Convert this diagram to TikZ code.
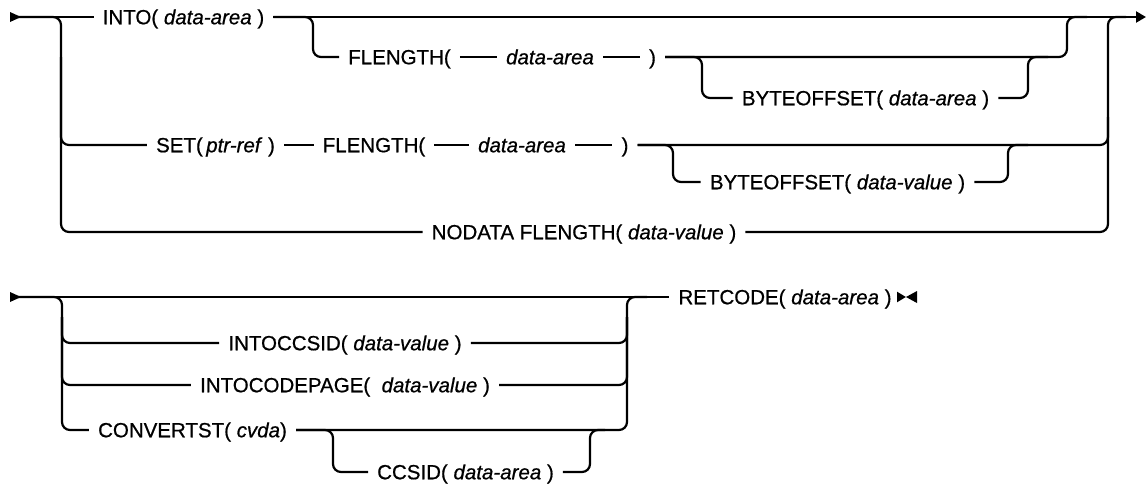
\documentclass[tikz,border=0pt]{standalone}
\usepackage{fontspec}
\setmainfont{Liberation Sans}
\newfontfamily\railfont{Liberation Sans}[FakeBold=0.7]
\usetikzlibrary{arrows.meta}

\tikzset{
    kw/.style={inner xsep=9pt, inner ysep=0pt, text height=14.5pt, text depth=0pt,
        font=\railfont\fontsize{20.5}{24}\selectfont},
    rail/.style={line width=2.2pt, rounded corners=8pt},
}

\begin{document}
\begin{tikzpicture}[x=1pt, y=-1pt]
    \useasboundingbox (0, 0) rectangle (1146, 483);

    % first diagram
    \coordinate (s1) at (10, 17);
    \coordinate (e1) at (1146, 17);
    \coordinate (b1) at (61, 17);
    \coordinate (b2) at (313, 17);
    \coordinate (b3) at (702, 57);
    \coordinate (b4) at (673, 145);
    \coordinate (m1) at (1028, 57);
    \coordinate (m2) at (1067, 17);
    \coordinate (m3) at (1008, 145);
    \coordinate (m4) at (1108, 17);

    \node[kw] (into) at (183.5, 17) {INTO( \textit{data-area} )};
    \node[kw] (flen1) at (399.5, 57) {FLENGTH(};
    \node[kw] (area1) at (550, 57) {\textit{data-area}};
    \node[kw] (rp1) at (652.5, 57) {)};
    \node[kw] (byte1) at (865.5, 98) {BYTEOFFSET( \textit{data-area} )};
    \node[kw] (set) at (215.5, 145) {SET(\,\textit{ptr-ref} )};
    \node[kw] (flen2) at (374, 145) {FLENGTH(};
    \node[kw] (area2) at (522, 145) {\textit{data-area}};
    \node[kw] (rp2) at (625, 145) {)};
    \node[kw] (byte2) at (837.5, 182) {BYTEOFFSET( \textit{data-value} )};
    \node[kw] (nodata) at (584, 232) {NODATA FLENGTH( \textit{data-value} )};

    \fill (s1) ++(0, -5) -- ++(11, 5) -- ++(-11, 5) -- cycle;
    \draw[rail] (s1) -- (into);
    \draw[rail, -{Triangle[length=10pt, width=11pt]}] (into) -- (e1);
    \draw[rail] (s1) -| (b1 |- nodata) -- (nodata);
    \draw[rail] ([yshift=-40pt]b1) |- (set);

    \draw[rail] (into) -| (b2 |- flen1) -- (flen1);
    \draw[rail] (flen1) -- (area1);
    \draw[rail] (area1) -- (rp1);
    \draw[rail] (rp1) -| (m2) -- ++(20, 0);
    \draw[rail] (rp1) -| (b3 |- byte1) -- (byte1);
    \draw[rail] (byte1) -| (m1) -- ++(20, 0);

    \draw[rail] (set) -- (flen2);
    \draw[rail] (flen2) -- (area2);
    \draw[rail] (area2) -- (rp2);
    \draw[rail] (rp2) -| ([yshift=-100pt]m4);
    \draw[rail] (rp2) -| (b4 |- byte2) -- (byte2);
    \draw[rail] (byte2) -| (m3) -- ++(20, 0);
    \draw[rail] (nodata) -| (m4) -- ++(18, 0);

    % second diagram
    \coordinate (s2) at (10, 297);
    \coordinate (e2) at (906, 297);
    \coordinate (c1) at (62, 297);
    \coordinate (c2) at (627, 297);
    \coordinate (c3) at (333, 430);
    \coordinate (c4) at (590, 430);

    \node[kw] (intoccsid) at (345, 343) {INTOCCSID( \textit{data-value} )};
    \node[kw] (intocp) at (345, 385) {INTOCODEPAGE(\ \ \textit{data-value} )};
    \node[kw] (convst) at (192.5, 430) {CONVERTST( \textit{cvda})};
    \node[kw] (ccsid) at (465.5, 472) {CCSID( \textit{data-area} )};
    \node[kw] (retcode) at (785, 297) {RETCODE( \textit{data-area} )};

    \fill (s2) ++(0, -5) -- ++(11, 5) -- ++(-11, 5) -- cycle;
    \draw[rail] (s2) -- (retcode);
    \draw[rail] (s2) -| (c1 |- convst) -- (convst);
    \draw[rail] ([yshift=-20pt]c1) |- (intoccsid);
    \draw[rail] ([yshift=-20pt]c1) |- (intocp);
    \draw[rail] (intoccsid) -| ([yshift=-20pt]c2);
    \draw[rail] (intocp) -| ([yshift=-20pt]c2);
    \draw[rail] (convst) -| (c2) -- ++(20, 0);
    \draw[rail] (convst) -| (c3 |- ccsid) -- (ccsid);
    \draw[rail] (ccsid) -| (c4) -- ++(15, 0);

    \draw[rail, -{Triangle[length=9pt, width=10pt]}] (retcode) -- (e2);
    \fill (e2) -- ++(11, -6) -- ++(0, 12) -- cycle;
\end{tikzpicture}
\end{document}
